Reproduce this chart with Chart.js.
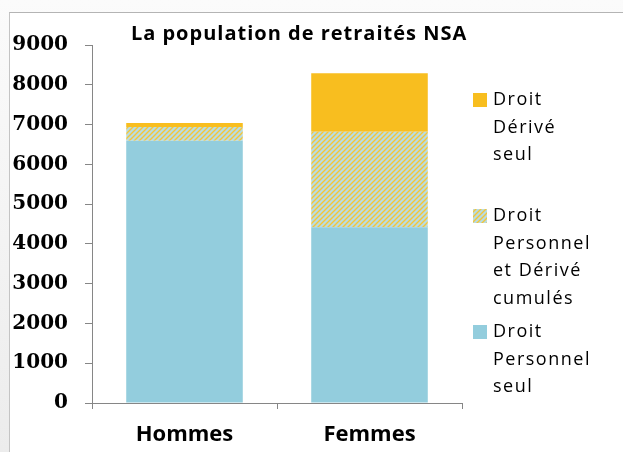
<!DOCTYPE html>
<html>
<head>
<meta charset="utf-8">
<script src="https://cdn.jsdelivr.net/npm/chart.js@4/dist/chart.umd.min.js"></script>
<style>
  html, body { margin: 0; padding: 0; }
  body { width: 623px; height: 452px; position: relative; overflow: hidden;
         background: linear-gradient(#fbfbfb, #ececec); }
  #frame { position: absolute; left: 9px; top: 12px; right: 0; bottom: 0; background: #fff;
           border-left: 1px solid #c4c4c4; border-top: 1px solid #b4b4b4; }
  #chart { position: absolute; left: 0; top: 0; }
</style>
</head>
<body>
<div id="frame"></div>
<canvas id="chart" width="623" height="452"></canvas>
<script>
// data
const categories = ['Hommes', 'Femmes'];
const persoSeul = [6590, 4420];
const cumules = [350, 2400];
const deriveSeul = [100, 1470];
const yTicks = [0, 1000, 2000, 3000, 4000, 5000, 6000, 7000, 8000, 9000];

const legendLines = [
  ['Droit', 'Dérivé', 'seul'],
  ['Droit', 'Personnel', 'et Dérivé', 'cumulés'],
  ['Droit', 'Personnel', 'seul']
];

const BLUE = '#93cddd';
const YELLOW = '#f8be1f';
const AXIS = '#868686';

// hatch pattern for the "cumulés" series
function makeHatch() {
  const c = document.createElement('canvas');
  c.width = 5; c.height = 5;
  const g = c.getContext('2d');
  g.fillStyle = '#b8dce2';
  g.fillRect(0, 0, 5, 5);
  g.strokeStyle = '#f3c53a';
  g.lineWidth = 1.4;
  g.beginPath();
  g.moveTo(-1, 6); g.lineTo(6, -1);
  g.moveTo(-1, 1); g.lineTo(1, -1);
  g.moveTo(4, 6); g.lineTo(6, 4);
  g.stroke();
  return g.createPattern(c, 'repeat');
}

const ctx = document.getElementById('chart').getContext('2d');
const hatch = makeHatch();
const legendFills = [YELLOW, hatch, BLUE];

// title + multi-line legend, drawn next to the chart area
const sidePlugin = {
  id: 'side',
  afterDraw(chart) {
    const c = chart.ctx;
    const area = chart.chartArea;
    c.save();
    c.fillStyle = '#000';
    c.textBaseline = 'middle';
    c.textAlign = 'center';
    c.font = 'bold 20px "Open Sans"';
    c.letterSpacing = '1px';
    c.fillText('La population de retraités NSA', chart.width * 0.48, area.top - 11);

    c.textAlign = 'left';
    c.font = '18px "Open Sans"';
    c.letterSpacing = '1.5px';
    legendLines.forEach((lines, i) => {
      const y0 = area.top + 55 + i * 116;
      c.fillStyle = legendFills[i];
      c.fillRect(area.right + 11, y0 - 7, 14, 14);
      c.fillStyle = '#000';
      lines.forEach((t, j) => c.fillText(t, area.right + 31, y0 + j * 27.5));
    });
    c.restore();
  }
};

new Chart(ctx, {
  type: 'bar',
  data: {
    labels: categories,
    datasets: [
      { label: 'Droit Personnel seul', data: persoSeul, backgroundColor: BLUE },
      { label: 'Droit Personnel et Dérivé cumulés', data: cumules, backgroundColor: hatch },
      { label: 'Droit Dérivé seul', data: deriveSeul, backgroundColor: YELLOW }
    ]
  },
  options: {
    responsive: false,
    animation: false,
    layout: { padding: { left: 0, right: 161, top: 45, bottom: 0 } },
    datasets: { bar: { barPercentage: 0.63, categoryPercentage: 1 } },
    plugins: { legend: { display: false }, title: { display: false }, tooltip: { enabled: false } },
    scales: {
      x: {
        stacked: true,
        afterFit: s => { s.height = 49; },
        grid: { offset: true, drawOnChartArea: false, tickLength: 6, color: AXIS },
        border: { color: AXIS },
        ticks: { color: '#000', padding: 13, font: { family: 'Open Sans', weight: 'bold', size: 22 } }
      },
      y: {
        stacked: true,
        min: yTicks[0],
        max: yTicks[yTicks.length - 1],
        afterFit: s => { s.width = 92; },
        afterBuildTicks: s => { s.ticks = yTicks.map(v => ({ value: v })); },
        grid: { drawOnChartArea: false, tickLength: 7, color: AXIS },
        border: { color: AXIS },
        ticks: {
          color: '#000', padding: 17,
          font: { family: 'DejaVu Serif', weight: 'bold', size: 20 },
          callback: v => String(v)
        }
      }
    }
  },
  plugins: [sidePlugin]
});
</script>
</body>
</html>
